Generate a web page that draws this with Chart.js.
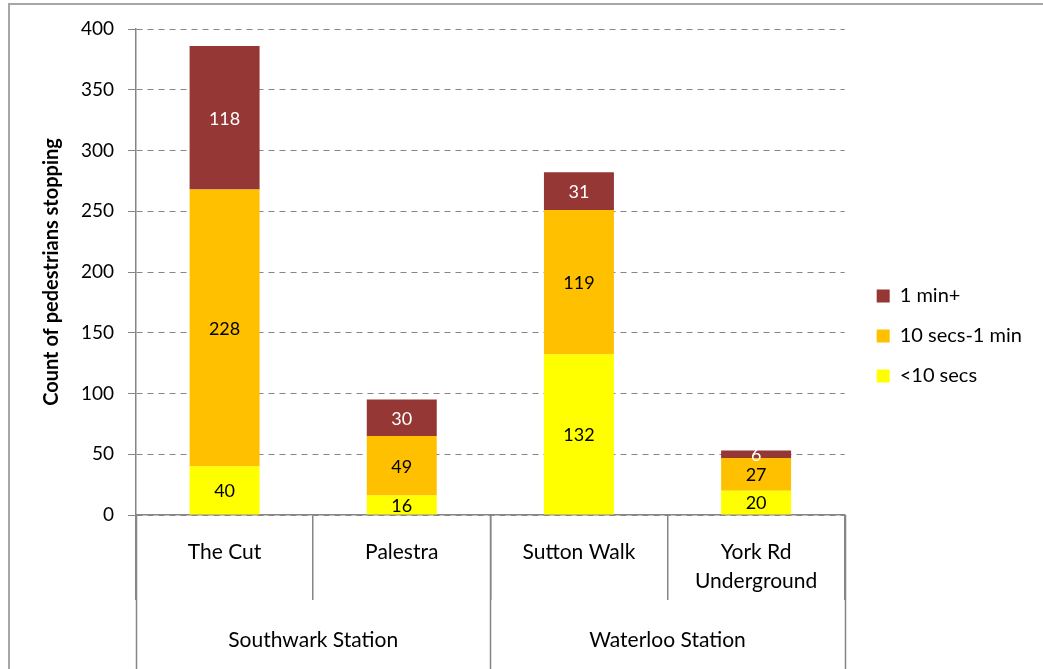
<!DOCTYPE html>
<html>
<head>
<meta charset="utf-8">
<script src="https://cdn.jsdelivr.net/npm/chart.js@4"></script>
<style>
  body { margin: 0; background: #fff; }
  #wrap { width: 1043px; height: 669px; position: relative; }
</style>
</head>
<body>
<div id="wrap"><canvas id="myChart"></canvas></div>
<script>
// data
const places = ['The Cut', 'Palestra', 'Sutton Walk', ['York Rd', 'Underground']];
const stations = ['Southwark Station', 'Waterloo Station'];
const stationSpan = [2, 2];
const under10 = [40, 16, 132, 20];
const tenToMin = [228, 49, 119, 27];
const overMin = [118, 30, 31, 6];
const yTicks = [0, 50, 100, 150, 200, 250, 300, 350, 400];

Chart.defaults.font.family = 'Lato, "Open Sans", sans-serif';
Chart.defaults.color = '#000';

const axisGrey = '#868686';

// frame, value labels and the two-level category axis
const extras = {
    id: 'extras',
    afterLayout(chart) {
        // nudge legend a bit, like the original
        chart.legend.top -= 13;
        chart.legend.bottom -= 13;
        chart.legend.left += 12;
        chart.legend.right += 12;
    },
    beforeDraw(chart) {
        const c = chart.ctx;
        c.save();
        c.strokeStyle = '#a6a6a6';
        c.lineWidth = 2;
        c.beginPath();
        c.moveTo(9, 669);
        c.lineTo(9, 4);
        c.lineTo(1043, 4);
        c.stroke();
        c.restore();
    },
    afterDatasetsDraw(chart) {
        const c = chart.ctx;
        c.save();
        c.font = '18px Lato';
        c.textAlign = 'center';
        c.textBaseline = 'middle';
        chart.data.datasets.forEach((ds, i) => {
            const meta = chart.getDatasetMeta(i);
            meta.data.forEach((bar, j) => {
                c.fillStyle = ds.labelColor;
                c.fillText(ds.data[j], bar.x, (bar.y + bar.base) / 2 + 1);
            });
        });
        c.restore();
    },
    afterDraw(chart) {
        const c = chart.ctx;
        const x = chart.scales.x;
        const area = chart.chartArea;
        const step = (area.right - area.left) / places.length;
        c.save();
        c.fillStyle = '#000';
        c.textAlign = 'center';
        c.textBaseline = 'middle';
        c.font = '21px Lato';
        places.forEach((p, i) => {
            const cx = x.getPixelForValue(i);
            const lines = Array.isArray(p) ? p : [p];
            lines.forEach((t, k) => c.fillText(t, cx, 552 + k * 29));
        });
        // station group lines + labels
        c.strokeStyle = axisGrey;
        c.lineWidth = 1.5;
        let start = 0;
        const edges = [area.left];
        stations.forEach((s, i) => {
            const l = area.left + start * step;
            const r = l + stationSpan[i] * step;
            c.fillText(s, (l + r) / 2, 640);
            edges.push(r);
            start += stationSpan[i];
        });
        edges.forEach(e => {
            c.beginPath();
            c.moveTo(Math.round(e) + 0.5, area.bottom);
            c.lineTo(Math.round(e) + 0.5, 669);
            c.stroke();
        });
        c.restore();
    }
};

const ctx = document.getElementById('myChart').getContext('2d');
const chart = new Chart(ctx, {
    type: 'bar',
    data: {
        labels: places,
        datasets: [
            { label: '<10 secs', data: under10, backgroundColor: '#FFFF00', labelColor: '#000' },
            { label: '10 secs-1 min', data: tenToMin, backgroundColor: '#FFC000', labelColor: '#000' },
            { label: '1 min+', data: overMin, backgroundColor: '#953735', labelColor: '#fff' }
        ]
    },
    options: {
        responsive: true,
        maintainAspectRatio: false,
        animation: false,
        layout: { padding: { left: 40, top: 29, right: 23, bottom: 0 } },
        datasets: { bar: { categoryPercentage: 1, barPercentage: 0.395, borderWidth: 0 } },
        scales: {
            x: {
                stacked: true,
                ticks: { display: false },
                grid: { offset: true, drawOnChartArea: false, drawTicks: true, tickLength: 85, color: axisGrey, lineWidth: 1.5 },
                border: { color: axisGrey, width: 1.5 },
                afterFit: s => { s.height = 154; }
            },
            y: {
                stacked: true,
                min: 0,
                max: 400,
                afterBuildTicks: s => { s.ticks = yTicks.map(v => ({ value: v })); },
                ticks: { font: { size: 19 }, padding: 14, color: '#000' },
                grid: { color: axisGrey, tickLength: 8, tickBorderDash: [], tickColor: axisGrey },
                border: { color: axisGrey, width: 1.5, dash: [6, 5] },
                title: { display: true, text: 'Count of pedestrians stopping', font: { size: 20, weight: 'bold' }, padding: 0 },
                afterFit: s => { s.width = 96; }
            }
        },
        plugins: {
            legend: {
                position: 'right',
                reverse: true,
                labels: { boxWidth: 13, boxHeight: 13, padding: 20, font: { size: 20 }, color: '#000' }
            },
            tooltip: { enabled: false }
        }
    },
    plugins: [extras]
});
</script>
</body>
</html>
